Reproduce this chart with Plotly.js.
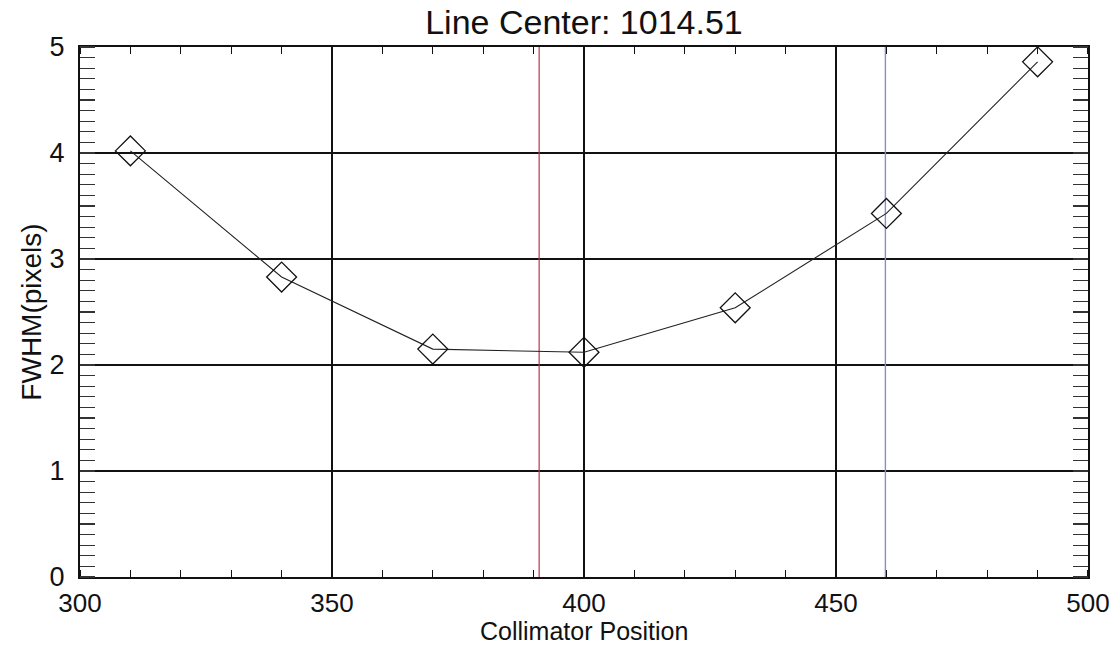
<!DOCTYPE html>
<html>
<head>
<meta charset="utf-8">
<script src="https://cdn.plot.ly/plotly-3.0.1.min.js"></script>
<style>
  html, body { margin: 0; padding: 0; background: #fff; }
  #chart { width: 1119px; height: 647px; }
</style>
</head>
<body>
<div id="chart"></div>
<script>
// Focus scan: FWHM of the line at each collimator position
const collimatorPosition = [310, 340, 370, 400, 430, 460, 490];
const fwhmPixels = [4.02, 2.83, 2.15, 2.12, 2.54, 3.43, 4.86];

// Marker positions drawn as vertical lines
const redMarkerX = 391.1;
const blueMarkerX = 459.8;

const lineCenter = 1014.51;

const yRange = [0, 5];
const xRange = [300, 500];

const fontFamily = '"Liberation Sans", Arial, Helvetica, sans-serif';

const traces = [
  {
    x: [redMarkerX, redMarkerX],
    y: yRange,
    mode: 'lines',
    line: { color: '#c0304f', width: 1.2 },
    hoverinfo: 'skip',
    showlegend: false
  },
  {
    x: [blueMarkerX, blueMarkerX],
    y: yRange,
    mode: 'lines',
    line: { color: '#8a8ad6', width: 1.4 },
    hoverinfo: 'skip',
    showlegend: false
  },
  {
    x: collimatorPosition,
    y: fwhmPixels,
    mode: 'lines+markers',
    line: { color: '#222', width: 1.1 },
    marker: {
      symbol: 'diamond-open',
      size: 23,
      color: '#111',
      line: { color: '#111', width: 1.3 }
    },
    showlegend: false
  }
];

const layout = {
  width: 1119,
  height: 647,
  margin: { l: 80, r: 31, t: 47, b: 70 },
  paper_bgcolor: '#fff',
  plot_bgcolor: '#fff',
  font: { family: fontFamily, color: '#111' },
  title: {
    text: 'Line Center: ' + lineCenter.toFixed(2),
    font: { size: 34, family: fontFamily, color: '#111' },
    x: 0.5,
    xref: 'paper',
    xanchor: 'center',
    y: 0.966,
    yanchor: 'middle'
  },
  xaxis: {
    range: xRange,
    tickmode: 'array',
    tickvals: [300, 350, 400, 450, 500],
    ticktext: ['300', '350', '400', '450', '500'],
    ticks: '',
    tickfont: { size: 26 },
    ticklabelstandoff: 2,
    showgrid: true,
    gridcolor: '#111',
    gridwidth: 1.5,
    showline: true,
    linecolor: '#111',
    linewidth: 2,
    mirror: 'allticks',
    zeroline: false,
    minor: {
      dtick: 10,
      tick0: 300,
      ticks: 'inside',
      ticklen: 7,
      tickwidth: 1.2,
      tickcolor: '#111',
      showgrid: false
    }
  },
  yaxis: {
    range: yRange,
    tickmode: 'array',
    tickvals: [0, 1, 2, 3, 4, 5],
    ticktext: ['0', '1', '2', '3', '4', '5'],
    ticks: '',
    tickfont: { size: 27 },
    ticklabelstandoff: 8,
    showgrid: true,
    gridcolor: '#111',
    gridwidth: 1.5,
    showline: true,
    linecolor: '#111',
    linewidth: 2,
    mirror: 'allticks',
    zeroline: false,
    minor: {
      dtick: 0.1,
      tick0: 0,
      ticks: 'inside',
      ticklen: 15,
      tickwidth: 1.2,
      tickcolor: '#333',
      showgrid: false
    },
    title: {
      text: 'FWHM(pixels)',
      font: { size: 28 },
      standoff: 0
    }
  },
  // x-axis title sits tight under the tick labels
  annotations: [
    {
      text: 'Collimator Position',
      xref: 'paper',
      yref: 'paper',
      x: 0.5,
      y: -(646 - 577) / 530,
      xanchor: 'center',
      yanchor: 'bottom',
      borderpad: 0,
      showarrow: false,
      font: { size: 25, family: fontFamily, color: '#111' }
    }
  ]
};

Plotly.newPlot('chart', traces, layout, { staticPlot: true, displayModeBar: false });
</script>
</body>
</html>
